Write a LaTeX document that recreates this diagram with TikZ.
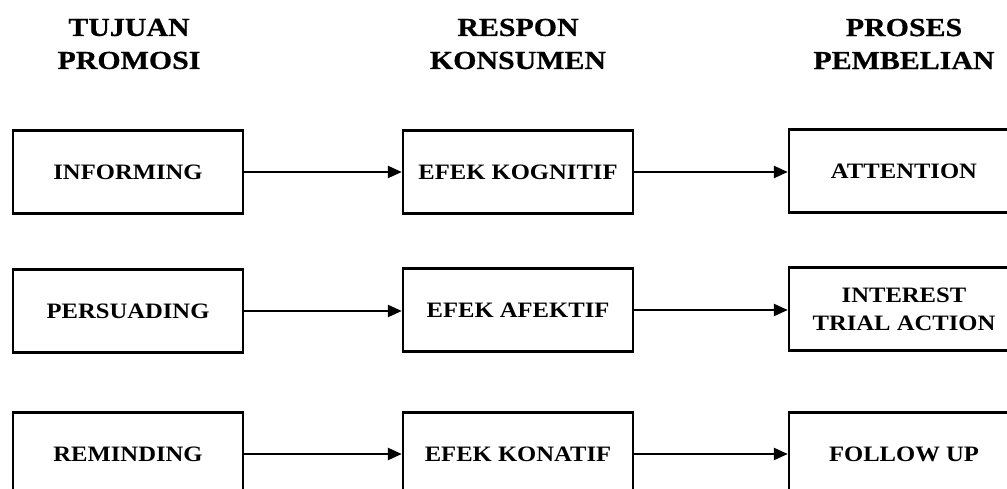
\documentclass[tikz,border=0pt]{standalone}
\usepackage{fontspec}
\setmainfont{Liberation Serif}
\newfontfamily\headfont[FakeStretch=1.15,FakeBold=0.6]{Liberation Serif}
\newfontfamily\boxfont[FakeStretch=1.12]{Liberation Serif}
\usetikzlibrary{arrows.meta}
\begin{document}
\begin{tikzpicture}[x=1pt,y=-1pt,
  stagebox/.style={draw, line width=2.4pt, minimum width=230pt, minimum height=83pt,
    inner sep=0pt, align=center, font=\boxfont\bfseries\fontsize{22}{28}\selectfont},
  header/.style={align=center, font=\headfont\bfseries\fontsize{26}{33}\selectfont},
  link/.style={line width=2.4pt, -{Triangle[length=14pt,width=12pt]}}]
\useasboundingbox (0,0) rectangle (1007,489);

\node[header] (h1) at (129,44) {TUJUAN\\PROMOSI};
\node[header] (h2) at (518,44) {RESPON\\KONSUMEN};
\node[header] (h3) at (904,44) {PROSES\\PEMBELIAN};

\node[stagebox] (l1) at (128,172) {INFORMING};
\node[stagebox] (m1) at (518,172) {EFEK KOGNITIF};
\node[stagebox] (r1) at (904,171) {ATTENTION};

\node[stagebox] (l2) at (128,311) {PERSUADING};
\node[stagebox] (m2) at (518,310) {EFEK AFEKTIF};
\node[stagebox] (r2) at (904,309) {INTEREST\\TRIAL ACTION};

\node[stagebox] (l3) at (128,454) {REMINDING};
\node[stagebox] (m3) at (518,454) {EFEK KONATIF};
\node[stagebox] (r3) at (904,454) {FOLLOW UP};

\draw[link] (l1.east) -- (l1.east -| m1.west);
\draw[link] (m1.east) -- (m1.east -| r1.west);
\draw[link] (l2.east) -- (l2.east -| m2.west);
\draw[link] (m2.east) -- (m2.east -| r2.west);
\draw[link] (l3) -- (m3);
\draw[link] (m3) -- (r3);
\end{tikzpicture}
\end{document}
